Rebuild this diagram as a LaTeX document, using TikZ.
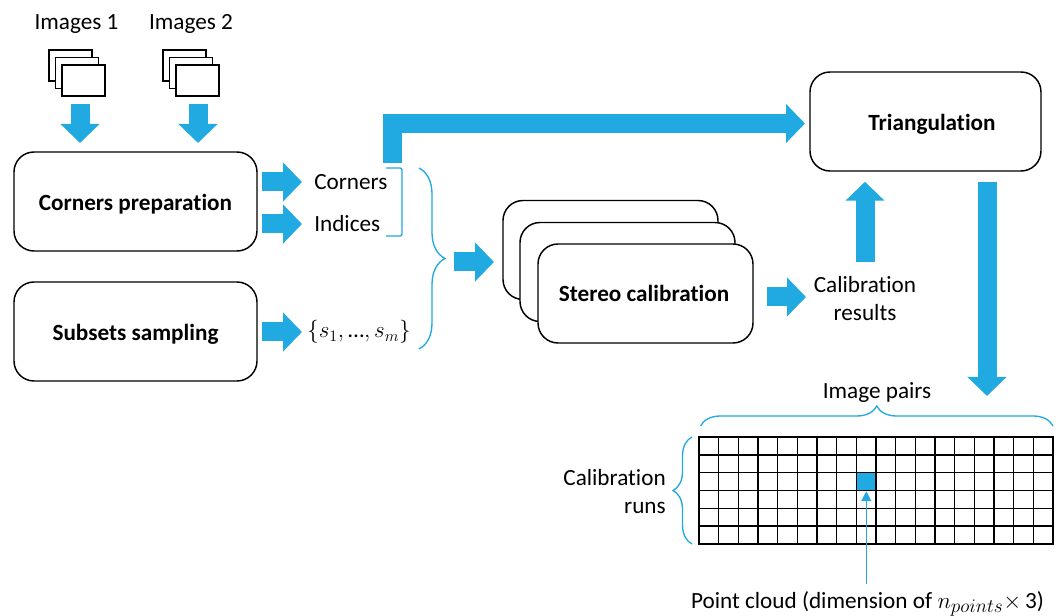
\documentclass[tikz,border=0pt]{standalone}
\usepackage{fontspec}
\usepackage{amsmath,graphicx}
\setmainfont{Carlito}[Ligatures=NoCommon]
\usetikzlibrary{arrows.meta,decorations.pathreplacing}
\definecolor{flowblue}{HTML}{21A9E1}
\newcommand{\unitsize}{0.75pt}

\begin{document}
\begin{tikzpicture}[x=\unitsize,y=-\unitsize]
\tikzstyle{every node}=[inner sep=0pt,font=\fontsize{17.4}{21}\selectfont]
\tikzstyle{stagebox}=[draw,fill=white,rounded corners=20*\unitsize,line width=1.1pt,
                      minimum width=243*\unitsize,minimum height=99*\unitsize,font=\fontsize{17.4}{21}\selectfont\bfseries]
\tikzstyle{stagetext}=[font=\fontsize{17.4}{21}\selectfont\bfseries]
\tikzstyle{stereobox}=[stagebox,minimum width=215*\unitsize,minimum height=99*\unitsize]
\tikzstyle{imagesheet}=[draw,fill=white,line width=1.1pt,minimum width=43*\unitsize,minimum height=31*\unitsize]
\tikzstyle{blockarrow}=[draw=flowblue,line width=19*\unitsize,-{Triangle[length=19*\unitsize,width=38*\unitsize]}]
\tikzstyle{thinblue}=[draw=flowblue,line width=1pt]
\tikzstyle{bluebrace}=[thinblue,decorate]
\useasboundingbox (0,0) rectangle (1064,616);

% image stacks
\node (labela) at (76.5,24) {Images 1};
\node (labelb) at (191,24) {Images 2};
\foreach \stackx/\stackname in {0/imga,114/imgb} {
  \node[imagesheet] (\stackname back) at (70.5+\stackx,65.5) {};
  \node[imagesheet] (\stackname mid) at (77+\stackx,73) {};
  \node[imagesheet] (\stackname front) at (83.5+\stackx,80.5) {};
}

% stages
\node[stagebox] (prep) at (135.5,201.5) {};
\node[stagetext] (preptext) at (135.5,204) {Corners preparation};
\node[stagebox] (subsets) at (135.5,331.5) {};
\node[stagetext] (subsetstext) at (135.5,334) {Subsets sampling};
\node[stagebox,minimum width=231*\unitsize] (tri) at (925.5,121.5) {};
\node[stagetext] (tritext) at (932,124) {Triangulation};
\node[stereobox] (stereoback) at (610.5,250) {};
\node[stereobox] (stereomid) at (627.5,272) {};
\node[stereobox] (stereofront) at (645.5,293.5) {};
\node[stagetext] (stereotext) at (644,293.5) {Stereo calibration};

% outputs
\node[anchor=west] (corners) at (314,182) {Corners};
\node[anchor=west] (indices) at (314,224) {Indices};
\node[anchor=west] (subsetlist) at (307,332) {$\{s_1,\text{…},s_m\}$};
\node[align=center] (results) at (865,299) {Calibration\\results};
\node (pairslabel) at (877,393) {Image pairs};
\node[align=right,anchor=east] (runslabel) at (666,491.5) {Calibration\\runs};
\node (cloudlabel) at (867.5,604) {Point cloud (dimension of $n_{\scalebox{1.2}{$\scriptstyle points$}}$$\times$\,3)};

% result grid
\begin{scope}[shift={(699,437)}]
\draw[line width=1.1pt,xstep=19.6667*\unitsize,ystep=17.8333*\unitsize] (0,0) grid (353.9,106.9);
\draw[line width=1.1pt] (0,0) rectangle (354,107);
\end{scope}
\node[draw,fill=flowblue,line width=1pt,minimum width=19.67*\unitsize,minimum height=17.83*\unitsize] (cloudcell) at (866.3,481.6) {};

% named free ends
\coordinate (arrowa) at (80,152);
\coordinate (arrowb) at (198,152);
\coordinate (cornerstap) at (392.5,163);
\coordinate (trigin) at (810,123.5);
\coordinate (stereoin) at (503,262);
\coordinate (resultsin) at (813,297);
\coordinate (resultsup) at (865,262);
\coordinate (gridin) at (987,396);
\coordinate (pointerfoot) at (866,584);
\coordinate (bigbracea) at (419,168);
\coordinate (bigbraceb) at (419,349);
\coordinate (bigbracetip) at (445,262);

% block arrows
\draw[blockarrow,shorten <=7*\unitsize,shorten >=9*\unitsize] (arrowa |- imgafront.south) -- (arrowa);
\draw[blockarrow,shorten <=7*\unitsize,shorten >=9*\unitsize] (arrowb |- imgbfront.south) -- (arrowb);
\draw[blockarrow,shorten <=4*\unitsize,shorten >=12*\unitsize] (prep.east |- corners) -- (corners);
\draw[blockarrow,shorten <=4*\unitsize,shorten >=12*\unitsize] (prep.east |- indices) -- (indices);
\draw[blockarrow,shorten <=4*\unitsize,shorten >=5*\unitsize] (subsets.east |- subsetlist) -- (subsetlist);
\draw[blockarrow,shorten >=5*\unitsize] (cornerstap) |- (trigin);
\draw[blockarrow,shorten <=9*\unitsize,shorten >=9*\unitsize] (bigbracetip) -- (stereoin);
\draw[blockarrow,shorten <=13*\unitsize,shorten >=7*\unitsize] (stereofront.east |- resultsin) -- (resultsin);
\draw[blockarrow,shorten >=10*\unitsize] (resultsup) -- (resultsup |- tri.south);
\draw[blockarrow,shorten <=10*\unitsize] (gridin |- tri.south) -- (gridin);

% brackets and braces
\draw[thinblue,rounded corners=2*\unitsize] (386,168) -- (402,168) -- (402,236) -- (386,236);
\draw[bluebrace,decoration={brace,amplitude=26*\unitsize}] (bigbracea) -- (bigbraceb);
\draw[bluebrace,decoration={brace,amplitude=20*\unitsize}] (700.5,426) -- (1053,426);
\draw[bluebrace,decoration={brace,amplitude=19*\unitsize}] (692,544) -- (692,437);

% pointer to the highlighted cell
\draw[thinblue,-{Triangle[length=10*\unitsize,width=10*\unitsize]}] (pointerfoot -| cloudcell) -- (cloudcell.south);
\end{tikzpicture}
\end{document}
